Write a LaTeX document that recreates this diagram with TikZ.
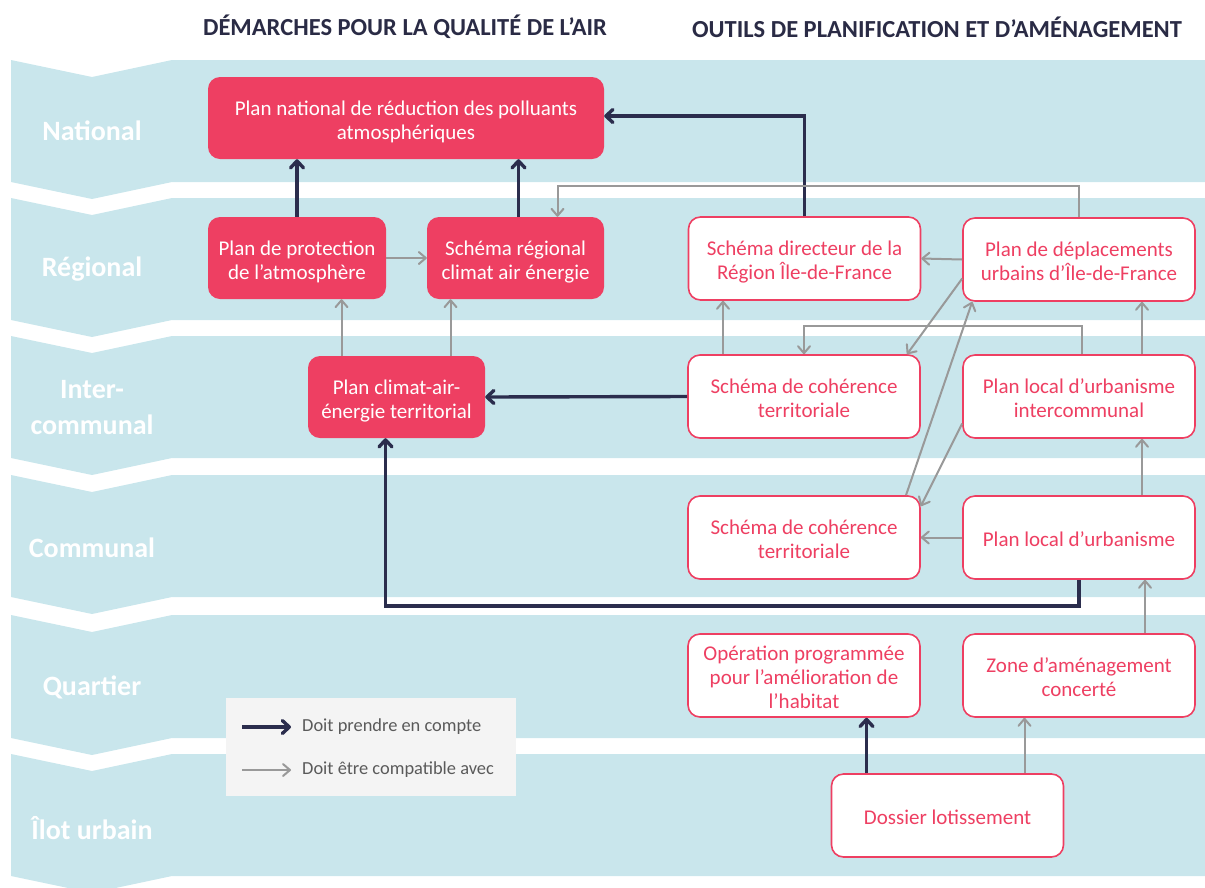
\documentclass[tikz,border=0pt]{standalone}
\usepackage{fontspec}
\setmainfont{Carlito}
\usetikzlibrary{arrows.meta}
\definecolor{bandc}{HTML}{C9E6EC}
\definecolor{redc}{HTML}{EE3F62}
\definecolor{navyc}{HTML}{2B2D4D}
\definecolor{grayc}{HTML}{999999}
\definecolor{legbg}{HTML}{F4F4F4}
\definecolor{titlec}{HTML}{2A2B45}
\definecolor{legtext}{HTML}{5A5A5A}
\begin{document}
\begin{tikzpicture}[x=1pt,y=-1pt,
  band/.style={fill=bandc},
  lvl/.style={text=white,font=\fontsize{28}{36}\selectfont\bfseries,align=center},
  ttl/.style={text=titlec,font=\fontsize{24.5}{26}\selectfont\bfseries},
  nl/.style={execute at begin node={\rule{0pt}{#1pt}}},
  lowtext/.style={align=center,
     execute at end node={\rule[-6pt]{0pt}{6pt}}},
  redbox/.style={fill=redc,rounded corners=12pt,text=white,lowtext,
     font=\fontsize{21}{24}\selectfont,inner sep=0pt},
  outbox/.style={draw=redc,line width=1.6pt,fill=white,rounded corners=12pt,text=redc,
     lowtext,font=\fontsize{21}{24}\selectfont,inner sep=0pt,
     minimum width=232,minimum height=83},
  darkarr/.style={draw=navyc,line width=3.4pt,-{Straight Barb[length=7pt,width=13pt,round]}},
  grayarr/.style={draw=grayc,line width=2pt,-{Straight Barb[length=7pt,width=12pt,round]}},
  legtxt/.style={text=legtext,font=\fontsize{18.4}{20}\selectfont,anchor=west,inner sep=0pt}
]
\useasboundingbox (0,0) rectangle (1205,887);
% bands
\foreach \t/\b in {60/182,198/320,336/458,475/597,615/738,754/876}{
  \fill[band] (11,\t) -- (92,\t+17) -- (172,\t) -- (1205,\t) -- (1205,\b)
     -- (172,\b) -- (92,\b+17) -- (11,\b) -- cycle;
}
% level labels
\node[lvl] (lnat) at (92,131) {National};
\node[lvl] (lreg) at (92,269) {Régional};
\node[lvl] (linter) at (92,408) {Inter-\\communal};
\node[lvl] (lcom) at (92,548) {Communal};
\node[lvl] (lqua) at (92,687) {Quartier};
\node[lvl] (lilo) at (92,828) {Îlot urbain};
% titles
\node[ttl] (t1) at (405,27) {DÉMARCHES POUR LA QUALITÉ DE L’AIR};
\node[ttl] (t2) at (937,27) {OUTILS DE PLANIFICATION ET D’AMÉNAGEMENT};
% red boxes
\node[redbox,nl=48,minimum width=396,minimum height=82] (pnrpa) at (406,118)
  {Plan national de réduction des polluants\\atmosphériques};
\node[redbox,nl=48,minimum width=178,minimum height=82] (ppa) at (297,258)
  {Plan de protection\\de l’atmosphère};
\node[redbox,nl=48,minimum width=177,minimum height=82] (srcae) at (515.5,258)
  {Schéma régional\\climat air énergie};
\node[redbox,nl=48,minimum width=177,minimum height=82] (pcaet) at (396.5,397)
  {Plan climat-air-\\énergie territorial};
% outlined boxes
\node[outbox,nl=48] (sdrif) at (804.5,258.5) {Schéma directeur de la\\Région Île-de-France};
\node[outbox,nl=48] (pduif) at (1079,259.5) {Plan de déplacements\\urbains d’Île-de-France};
\node[outbox,nl=48] (scoti) at (804,396.5) {Schéma de cohérence\\territoriale};
\node[outbox,nl=48] (plui) at (1079,396.5) {Plan local d’urbanisme\\intercommunal};
\node[outbox,nl=48] (scotc) at (804,537.5) {Schéma de cohérence\\territoriale};
\node[outbox,nl=24] (plu) at (1079,537.5) {Plan local d’urbanisme};
\node[outbox,nl=72] (opah) at (804,675.5) {Opération programmée\\pour l’amélioration de\\l’habitat};
\node[outbox,nl=48] (zac) at (1079,675.5) {Zone d’aménagement\\concerté};
\node[outbox,nl=24] (doss) at (947.5,815.5) {Dossier lotissement};
% dark arrows
\draw[darkarr] (ppa.north) -- (ppa.north |- pnrpa.south);
\draw[darkarr] ([xshift=3]srcae.north) -- ([xshift=3]srcae.north |- pnrpa.south);
\draw[darkarr] (sdrif.north) |- ([yshift=2]pnrpa.east);
\draw[darkarr] (scoti.west) -- (pcaet.east);
\draw[darkarr] (plu.south) -- (plu.south |- 0,606) -| ([xshift=-11]pcaet.south);
\draw[darkarr] ([xshift=-81]doss.north) -- ([xshift=-81]doss.north |- opah.south);
% gray arrows
\draw[grayarr] (ppa.east) -- (srcae.west);
\draw[grayarr] ([xshift=-55]pcaet.north) -- ([xshift=-55]pcaet.north |- ppa.south);
\draw[grayarr] ([xshift=54]pcaet.north) -- ([xshift=54]pcaet.north |- srcae.south);
\draw[grayarr] (pduif.north) -- (pduif.north |- 0,186) -| ([xshift=42]srcae.north);
\draw[grayarr] (pduif.west) -- (sdrif.east);
\draw[grayarr] ([xshift=-81]scoti.north) -- ([xshift=-81]scoti.north |- sdrif.south);
\draw[grayarr] ([yshift=-19]pduif.west) -- ([xshift=103]scoti.north);
\draw[grayarr] ([xshift=3]plui.north) -- ([xshift=3]plui.north |- 0,326) -| (scoti.north);
\draw[grayarr] ([xshift=63]plui.north) -- ([xshift=63]plui.north |- pduif.south);
\draw[grayarr] ([xshift=102]scotc.north) -- ([xshift=10]pduif.south west);
\draw[grayarr] ([yshift=-27]plui.west) -- ([yshift=-11]scotc.north east);
\draw[grayarr] (plu.west) -- (scotc.east);
\draw[grayarr] ([xshift=63]plu.north) -- ([xshift=63]plu.north |- plui.south);
\draw[grayarr] ([xshift=66]zac.north) -- ([xshift=66]zac.north |- plu.south);
\draw[grayarr] ([xshift=77]doss.north) -- ([xshift=77]doss.north |- zac.south);
% legend
\node[fill=legbg,minimum width=290,minimum height=98,inner sep=0pt] (leg) at (371,747) {};
\coordinate (la1) at (242,727);
\coordinate (lb1) at (291,727);
\coordinate (la2) at (242,770);
\coordinate (lb2) at (291,770);
\draw[darkarr] (la1) -- (lb1);
\draw[grayarr] (la2) -- (lb2);
\node[legtxt] (lt1) at (302,727) {Doit prendre en compte};
\node[legtxt] (lt2) at (302,770) {Doit être compatible avec};
\end{tikzpicture}
\end{document}
